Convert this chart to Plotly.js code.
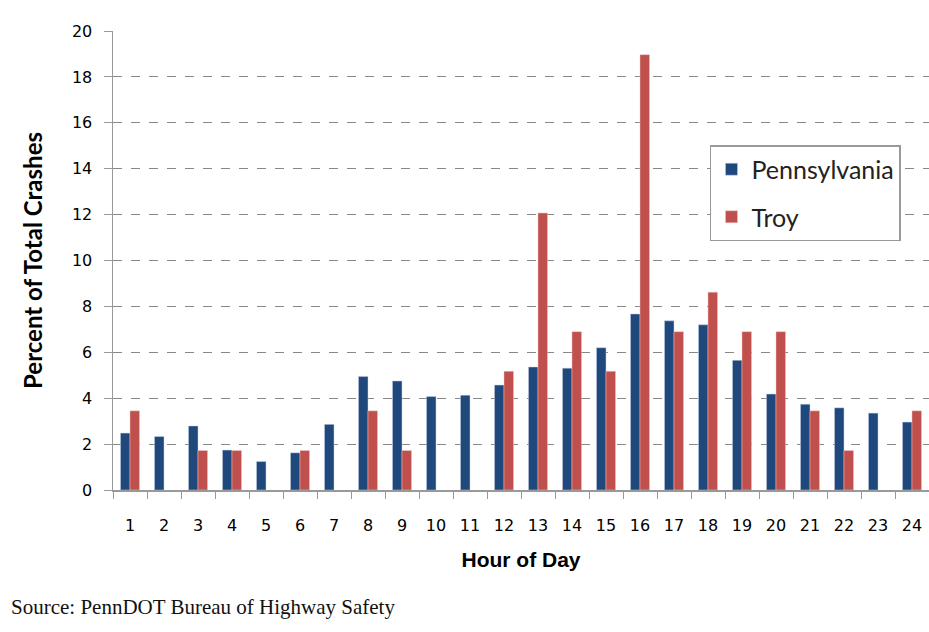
<!DOCTYPE html>
<html>
<head>
<meta charset="utf-8">
<script src="https://cdn.plot.ly/plotly-3.0.1.min.js"></script>
<style>html,body{margin:0;padding:0;background:#fff;}#chart{width:929px;height:632px;}</style>
</head>
<body>
<div id="chart"></div>
<script>
const hours = ["1","2","3","4","5","6","7","8","9","10","11","12","13","14","15","16","17","18","19","20","21","22","23","24"];
const pennsylvania = [2.48,2.33,2.79,1.74,1.24,1.62,2.86,4.95,4.75,4.07,4.13,4.57,5.36,5.31,6.20,7.67,7.37,7.20,5.65,4.18,3.74,3.58,3.35,2.96];
const troy = [3.45,null,1.72,1.72,null,1.72,null,3.45,1.72,null,null,5.17,12.07,6.90,5.17,18.97,6.90,8.62,6.90,6.90,3.45,1.72,null,3.45];
const yTicks = [0,2,4,6,8,10,12,14,16,18,20];

const traces = [
  {type:'bar', name:'Pennsylvania', x:hours, y:pennsylvania, legendgroup:'a',
   marker:{color:'#1F497D', line:{color:'rgba(200,210,230,0.8)', width:0.6}}},
  {type:'bar', name:'Troy', x:hours, y:troy, legendgroup:'b',
   marker:{color:'#C0504D', line:{color:'rgba(240,200,200,0.8)', width:0.6}}}
];

const tickFont = {size:16, family:'DejaVu Sans, sans-serif', color:'#000'};

const layout = {
  width:929, height:632,
  margin:{l:113, r:0, t:31, b:142, pad:0},
  paper_bgcolor:'#fff', plot_bgcolor:'#fff',
  barmode:'group', bargap:0.44, bargroupgap:0,
  font:{family:'Liberation Sans, Arial, sans-serif', color:'#000'},
  xaxis:{
    type:'category', range:[-0.5,23.5], tickson:'boundaries',
    ticks:'outside', ticklen:7, tickcolor:'#999', tickwidth:1,
    showline:true, linecolor:'#999', linewidth:1.5, showgrid:false, zeroline:false,
    tickfont:tickFont,
    ticklabelstandoff:20,
    title:{text:'<b>Hour of Day</b>', font:{size:21, family:'Liberation Sans, Arial, sans-serif'}, standoff:18}
  },
  yaxis:{
    range:[0,20], tickvals:yTicks, ticks:'outside', ticklen:8, tickcolor:'#999',
    showline:true, linecolor:'#999', linewidth:1.5,
    showgrid:true, gridcolor:'#888', griddash:'dash', gridwidth:1, zeroline:false,
    tickfont:tickFont,
    ticklabelstandoff:8,
    title:{text:'<b>Percent of Total Crashes</b>', font:{size:24, family:'Lato, sans-serif'}, standoff:22}
  },
  showlegend:true,
  legend:{
    x:0.7316, y:0.7516, xanchor:'left', yanchor:'top',
    bgcolor:'#fff', bordercolor:'#999', borderwidth:1.5,
    font:{size:25, family:'Lato, sans-serif', color:'#222'},
    traceorder:'grouped', tracegroupgap:12
  },
  annotations:[
    {text:'Source: PennDOT Bureau of Highway Safety', xref:'paper', yref:'paper',
     x:-104/816, y:-(607-490)/459, xanchor:'left', yanchor:'middle', showarrow:false,
     font:{size:21, family:'Liberation Serif, serif', color:'#111'}}
  ]
};

Plotly.newPlot('chart', traces, layout, {displayModeBar:false, staticPlot:true});
</script>
</body>
</html>
